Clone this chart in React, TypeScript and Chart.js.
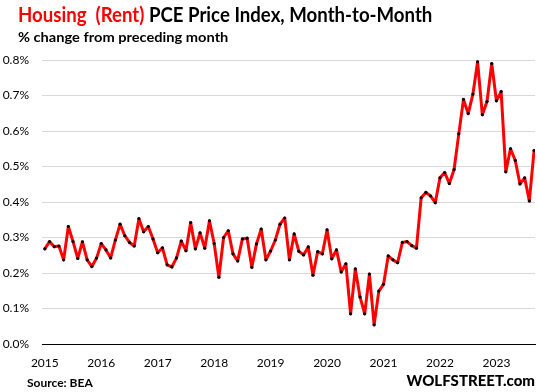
import React, { useEffect, useRef } from "react";
import { Chart, registerables } from "chart.js";

Chart.register(...registerables);

const YEARS = ["2015", "2016", "2017", "2018", "2019", "2020", "2021", "2022", "2023"];

// Monthly % change, Jan 2015 .. Sep 2023
const RENT_PCE_MOM = [
  0.268, 0.2885, 0.274, 0.276, 0.237, 0.331, 0.2885, 0.241, 0.288, 0.237, 0.218, 0.242,
  0.283, 0.265, 0.2425, 0.293, 0.3375, 0.305, 0.286, 0.276, 0.353, 0.316, 0.331, 0.296,
  0.257, 0.271, 0.223, 0.217, 0.2425, 0.29, 0.263, 0.342, 0.268, 0.313, 0.27, 0.347,
  0.283, 0.188, 0.3, 0.319, 0.254, 0.234, 0.296, 0.298, 0.216, 0.282, 0.324, 0.237,
  0.262, 0.293, 0.3375, 0.355, 0.237, 0.31, 0.261, 0.251, 0.2735, 0.194, 0.26, 0.254,
  0.3215, 0.24, 0.265, 0.203, 0.226, 0.085, 0.2115, 0.1325, 0.085, 0.197, 0.054, 0.149,
  0.168, 0.248, 0.237, 0.229, 0.286, 0.2885, 0.277, 0.27, 0.412, 0.427, 0.417, 0.398,
  0.468, 0.483, 0.452, 0.4915, 0.592, 0.689, 0.649, 0.704, 0.795, 0.646, 0.683, 0.79,
  0.685, 0.711, 0.485, 0.55, 0.517, 0.451, 0.468, 0.403, 0.545,
];

const Y_TICKS = [0, 0.1, 0.2, 0.3, 0.4, 0.5, 0.6, 0.7, 0.8];

const FONT = "Lato, 'Open Sans', sans-serif";

export default function App() {
  const canvasRef = useRef<HTMLCanvasElement | null>(null);

  useEffect(() => {
    const canvas = canvasRef.current;
    if (!canvas) return;
    const points = RENT_PCE_MOM.map((v, i) => ({ x: i, y: v }));
    const chart = new Chart(canvas, {
      type: "line",
      data: {
        datasets: [
          {
            label: "Housing (Rent) PCE Price Index",
            data: points,
            borderColor: "#ff0000",
            borderWidth: 3,
            borderJoinStyle: "round",
            borderCapStyle: "round",
            tension: 0,
            pointRadius: 1.6,
            pointBackgroundColor: "#000000",
            pointBorderWidth: 0,
            pointHoverRadius: 2,
          },
        ],
      },
      options: {
        animation: false,
        responsive: false,
        maintainAspectRatio: false,
        layout: { padding: { left: 0, right: 3, top: 60, bottom: 0 } },
        plugins: {
          legend: { display: false },
          title: { display: false },
          tooltip: { enabled: false },
        },
        scales: {
          x: {
            type: "linear",
            min: -0.6,
            max: 104.2,
            grid: { display: false, drawTicks: false },
            border: { display: true, color: "#000000", width: 1 },
            afterBuildTicks: (scale: any) => {
              scale.ticks = YEARS.map((_, i) => ({ value: i * 12 }));
            },
            afterFit: (scale: any) => {
              scale.height = 48;
            },
            ticks: {
              autoSkip: false,
              maxRotation: 0,
              padding: 12,
              color: "#000000",
              font: { family: FONT, size: 12 },
              callback: (v: any) => YEARS[Math.round(Number(v) / 12)] ?? "",
            },
          },
          y: {
            min: 0,
            max: 0.8,
            afterBuildTicks: (scale: any) => {
              scale.ticks = Y_TICKS.map((v) => ({ value: v }));
            },
            afterFit: (scale: any) => {
              scale.width = 42;
            },
            grid: {
              drawTicks: false,
              color: (ctx: any) => (ctx.tick && ctx.tick.value === 0 ? "#000000" : "#d9d9d9"),
              lineWidth: 1,
            },
            border: { display: false },
            ticks: {
              padding: 13,
              color: "#000000",
              font: { family: FONT, size: 12 },
              callback: (v: any) => Number(v).toFixed(1) + "%",
            },
          },
        },
      },
    });
    return () => chart.destroy();
  }, []);

  return (
    <div style={{ position: "fixed", left: 0, top: 0, width: 538, height: 392, background: "#fff", overflow: "hidden" }}>
      <canvas ref={canvasRef} width={538} height={392} style={{ position: "absolute", left: 0, top: 0, width: 538, height: 392 }} />
      <div
        style={{
          position: "absolute",
          left: 18,
          top: 1,
          fontFamily: FONT,
          fontWeight: 700,
          fontSize: 21,
          whiteSpace: "pre",
          color: "#000",
          lineHeight: "26px",
          transform: "scaleX(0.887)",
          transformOrigin: "left top",
        }}
      >
        <span style={{ color: "#ff0000" }}>{"Housing  (Rent)"}</span>
        {" PCE Price Index, Month-to-Month"}
      </div>
      <div
        style={{
          position: "absolute",
          left: 18,
          top: 28,
          fontFamily: FONT,
          fontWeight: 700,
          fontSize: 14,
          whiteSpace: "pre",
          color: "#000",
          lineHeight: "18px",
          transform: "scaleX(1.045)",
          transformOrigin: "left top",
        }}
      >
        {"% change from preceding month"}
      </div>
      <div
        style={{
          position: "absolute",
          left: 27,
          top: 375,
          fontFamily: FONT,
          fontWeight: 700,
          fontSize: 12,
          whiteSpace: "pre",
          color: "#000",
          lineHeight: "15px",
        }}
      >
        {"Source: BEA"}
      </div>
      <div
        style={{
          position: "absolute",
          right: 3,
          top: 371,
          fontFamily: FONT,
          fontWeight: 900,
          fontSize: 15,
          whiteSpace: "pre",
          color: "#000",
          lineHeight: "18px",
        }}
      >
        {"WOLFSTREET.com"}
      </div>
    </div>
  );
}
